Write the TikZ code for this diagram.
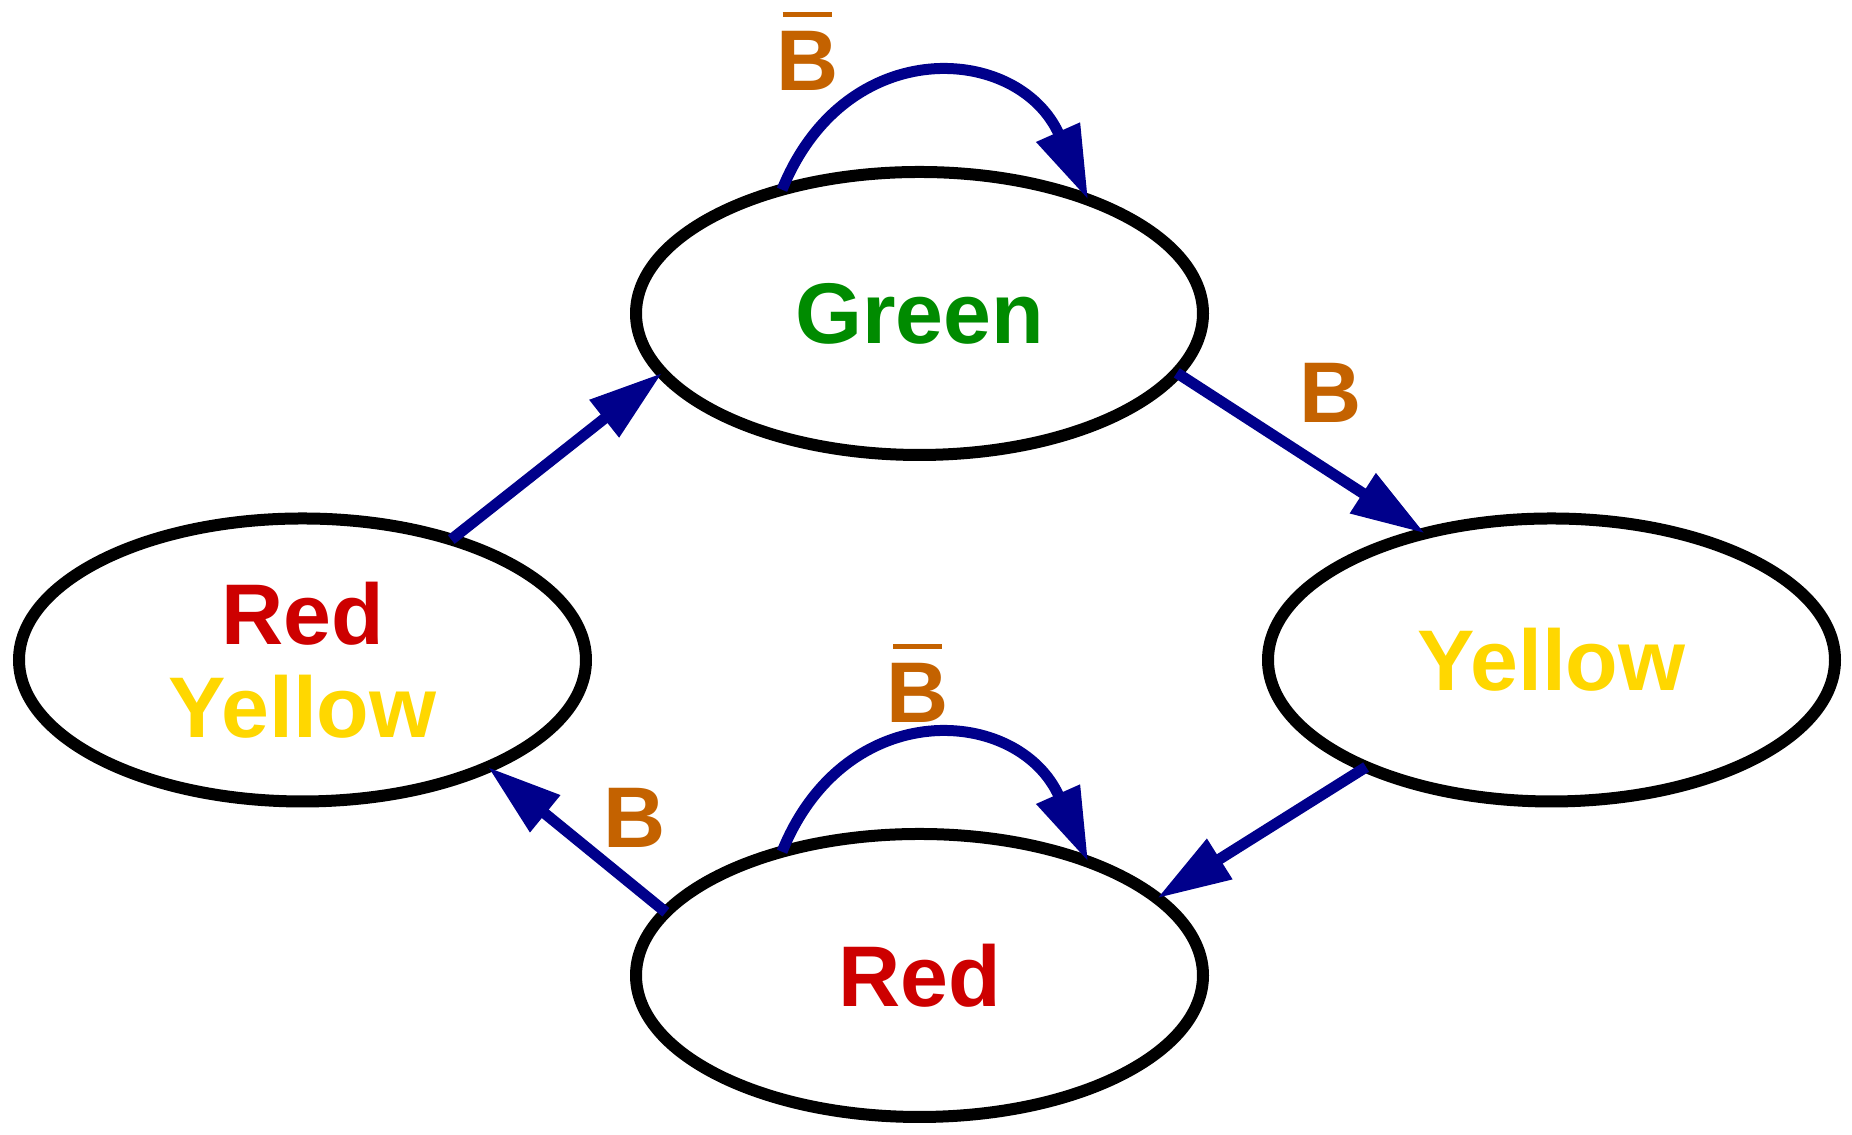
\documentclass[tikz,border=0pt]{standalone}
\usepackage{fontspec}
\setmainfont{Liberation Sans}
\usetikzlibrary{shapes.geometric,arrows.meta}
\definecolor{tgreen}{RGB}{0,139,0}
\definecolor{tred}{RGB}{205,0,0}
\definecolor{tyellow}{RGB}{255,215,0}
\definecolor{tbrown}{RGB}{196,98,0}
\definecolor{tblue}{RGB}{0,0,139}
% B with a bar over it
\newcommand{\Bbar}{\vbox{\offinterlineskip\moveright 1.8pt\hbox{\rule{14pt}{1.3pt}}\kern 4.2pt\hbox{B}}}
\begin{document}
\begin{tikzpicture}[
  state/.style={draw, ellipse, line width=.12cm, minimum width=5.67cm, minimum height=2.83cm,
    inner sep=0pt, outer sep=0pt, align=center, font=\fontsize{24.5}{26.6}\selectfont\bfseries},
  edge/.style={tblue, line width=.11cm, -{Triangle[length=.74cm,width=.45cm]}},
  loop/.style={edge, out=68, in=114, looseness=1.42},
  lbl/.style={anchor=base, text=tbrown, font=\fontsize{24.5}{26.6}\selectfont\bfseries}]
\useasboundingbox (0,0) rectangle (18.52,11.35);

\node (G) at (9.195,8.215) [state, text=tgreen] {Green};
\node (Y) at (15.515,4.75) [state, text=tyellow] {Yellow};
\node (R) at (9.195,1.595) [state, text=tred] {Red};
\node (RY) at (3.025,4.75) [state] {\textcolor{tred}{Red}\\\textcolor{tyellow}{Yellow}};

\draw[edge] (G.-13) to (Y.135);
\draw[edge] (Y.210) to (R.18);
\draw[edge] (R.166) to (RY.-30);
\draw[edge] (RY.39) to (G.193);
\draw[loop] (G.138) to (G.34);
\draw[loop] (R.138) to (R.34);

\node (lGY) at (13.31,7.12) [lbl] {B};
\node (lRRY) at (6.35,2.87) [lbl] {B};
\node (lGG) at (8.075,10.44) [lbl] {\Bbar};
\node (lRR) at (9.18,4.12) [lbl] {\Bbar};
\end{tikzpicture}
\end{document}
